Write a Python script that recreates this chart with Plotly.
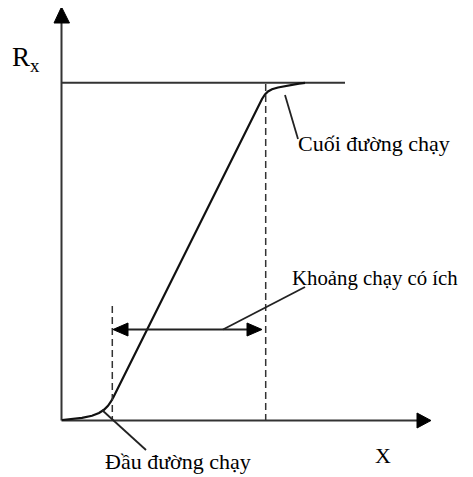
import plotly.graph_objects as go

W, H = 473, 477
OFF = 8  # browser body margin

# Diagram geometry (pixel space of the page)
axis_y_x = [61.5, 61.5]
axis_y_y = [420.5, 16]
axis_x_x = [61.5, 422]
axis_x_y = [420.5, 420.5]
top_line_x = [61.5, 345]
top_line_y = [82.7, 82.7]

curve_x = [62, 72, 82, 92, 99, 104, 108, 111, 113.5, 262, 265, 268, 272, 278, 285, 292, 299, 305]
curve_y = [420, 419.2, 417.8, 415.8, 413, 409.8, 405.8, 401.5, 397, 99, 94.5, 91.5, 89.3, 87.5, 86, 84.8, 83.6, 82.8]

dash_left_x = [112.3, 112.3]
dash_left_y = [306, 420]
dash_right_x = [265.7, 265.7]
dash_right_y = [84, 420]

span_x = [120, 255]
span_y = [329.5, 329.5]

leader_mid_x = [223, 305]
leader_mid_y = [329.5, 287]
leader_top_x = [285, 298]
leader_top_y = [95, 139]
leader_bot_x = [102, 146]
leader_bot_y = [410, 450]

# arrowheads (filled triangles)
heads = [
    ([61.5, 54, 69.5, 61.5], [7, 23, 23, 7]),          # y axis
    ([431, 417, 417, 431], [420.5, 413, 428, 420.5]),  # x axis
    ([113, 128, 128, 113], [329.5, 323, 336, 329.5]),  # span left
    ([262, 247, 247, 262], [329.5, 323, 336, 329.5]),  # span right
]

labels = [
    ("R<sub>x</sub>", 10, 59, 27),
    ("Cuối đường chạy", 296, 143, 22),
    ("Khoảng chạy có ích", 290, 278, 20.8),
    ("Đầu đường chạy", 103, 461, 22),
    ("X", 373, 455, 22),
]

fig = go.Figure()

def line(xs, ys, width=2, dash=None, color="#1a1a1a"):
    fig.add_trace(go.Scatter(
        x=xs, y=ys, mode="lines", hoverinfo="skip", showlegend=False,
        line=dict(color=color, width=width, dash=dash, shape="linear"),
    ))

line(axis_y_x, axis_y_y, 2, color="#333333")
line(axis_x_x, axis_x_y, 2, color="#333333")
line(top_line_x, top_line_y, 2, color="#333333")
line(curve_x, curve_y, 2.2, color="#111111")
line(dash_left_x, dash_left_y, 1.5, dash="7px,4px", color="#333333")
line(dash_right_x, dash_right_y, 1.5, dash="7px,4px", color="#333333")
line(span_x, span_y, 1.8, color="#222222")
line(leader_mid_x, leader_mid_y, 1.8, color="#222222")
line(leader_top_x, leader_top_y, 1.8, color="#222222")
line(leader_bot_x, leader_bot_y, 1.8, color="#222222")

for hx, hy in heads:
    fig.add_trace(go.Scatter(
        x=hx, y=hy, mode="lines", fill="toself", fillcolor="#000000",
        line=dict(color="#000000", width=1), hoverinfo="skip", showlegend=False,
    ))

for txt, x, y, size in labels:
    fig.add_annotation(
        x=x, y=y, text=txt, showarrow=False, xanchor="left", yanchor="middle",
        font=dict(family="Liberation Serif, Times New Roman, serif", size=size, color="#000000"),
    )

fig.update_layout(
    width=W - OFF, height=H - OFF, margin=dict(l=0, r=0, t=0, b=0),
    paper_bgcolor="white", plot_bgcolor="white",
    xaxis=dict(range=[OFF, W], visible=False, fixedrange=True),
    yaxis=dict(range=[H, OFF], visible=False, fixedrange=True),
)

fig.write_html("out.html")
